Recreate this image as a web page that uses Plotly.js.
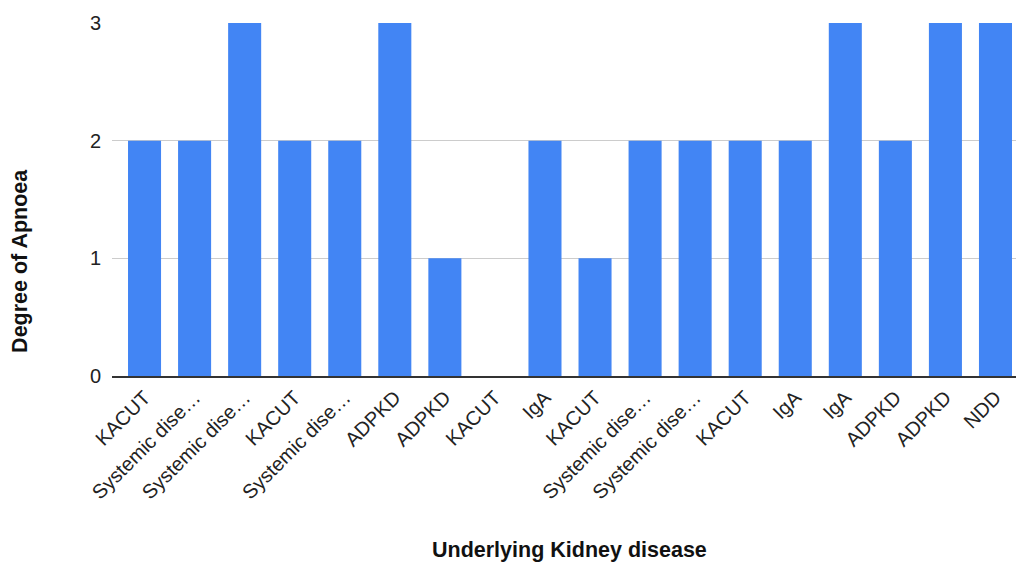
<!DOCTYPE html>
<html>
<head>
<meta charset="utf-8">
<script src="https://cdn.plot.ly/plotly-3.0.1.min.js"></script>
<style>html,body{margin:0;padding:0;background:#fff;}#chart{width:1016px;height:563px;}</style>
</head>
<body>
<div id="chart"></div>
<script>
const categories = ["KACUT","Systemic dise…","Systemic dise…","KACUT","Systemic dise…","ADPKD","ADPKD","KACUT","IgA","KACUT","Systemic dise…","Systemic dise…","KACUT","IgA","IgA","ADPKD","ADPKD","NDD"];
const apnoeaDegree = [2,2,3,2,2,3,1,0,2,1,2,2,2,2,3,2,3,3];
const yTicks = [0,1,2,3];
const xTitle = 'Underlying Kidney disease';
const yTitle = 'Degree of Apnoea';

const idx = categories.map((_, i) => i);

Plotly.newPlot('chart', [{
  type: 'bar',
  x: idx,
  y: apnoeaDegree,
  marker: {color: '#4285F4'},
  hoverinfo: 'x+y'
}], {
  width: 1016, height: 563,
  margin: {l: 112, r: 0, t: 23, b: 187},
  paper_bgcolor: '#fff', plot_bgcolor: '#fff',
  bargap: 0.34,
  font: {family: 'Liberation Sans, Arial, sans-serif', color: '#222'},
  xaxis: {
    tickmode: 'array', tickvals: idx, ticktext: categories,
    tickangle: -45, tickfont: {size: 20, color: '#222'},
    range: [-0.65, 17.41], showgrid: false, zeroline: false,
    showline: true, linecolor: '#333', linewidth: 2, ticks: '',
    automargin: false
  },
  yaxis: {
    range: [0, 3], tickvals: yTicks, tickfont: {size: 20, color: '#222'},
    showgrid: true, gridcolor: '#cccccc', zeroline: false,
    ticks: '', ticklen: 0, ticklabelstandoff: 10, automargin: false
  },
  annotations: [
    {text: '<b>' + xTitle + '</b>', xref: 'paper', yref: 'paper', x: 0.5066, y: -0.494,
     xanchor: 'center', yanchor: 'middle', showarrow: false, font: {size: 21.5, color: '#111'}},
    {text: '<b>' + yTitle + '</b>', xref: 'paper', yref: 'paper', x: -0.1018, y: 0.326,
     xanchor: 'center', yanchor: 'middle', textangle: -90, showarrow: false, font: {size: 21.5, color: '#111'}}
  ],
  showlegend: false
}, {displayModeBar: false});
</script>
</body>
</html>
